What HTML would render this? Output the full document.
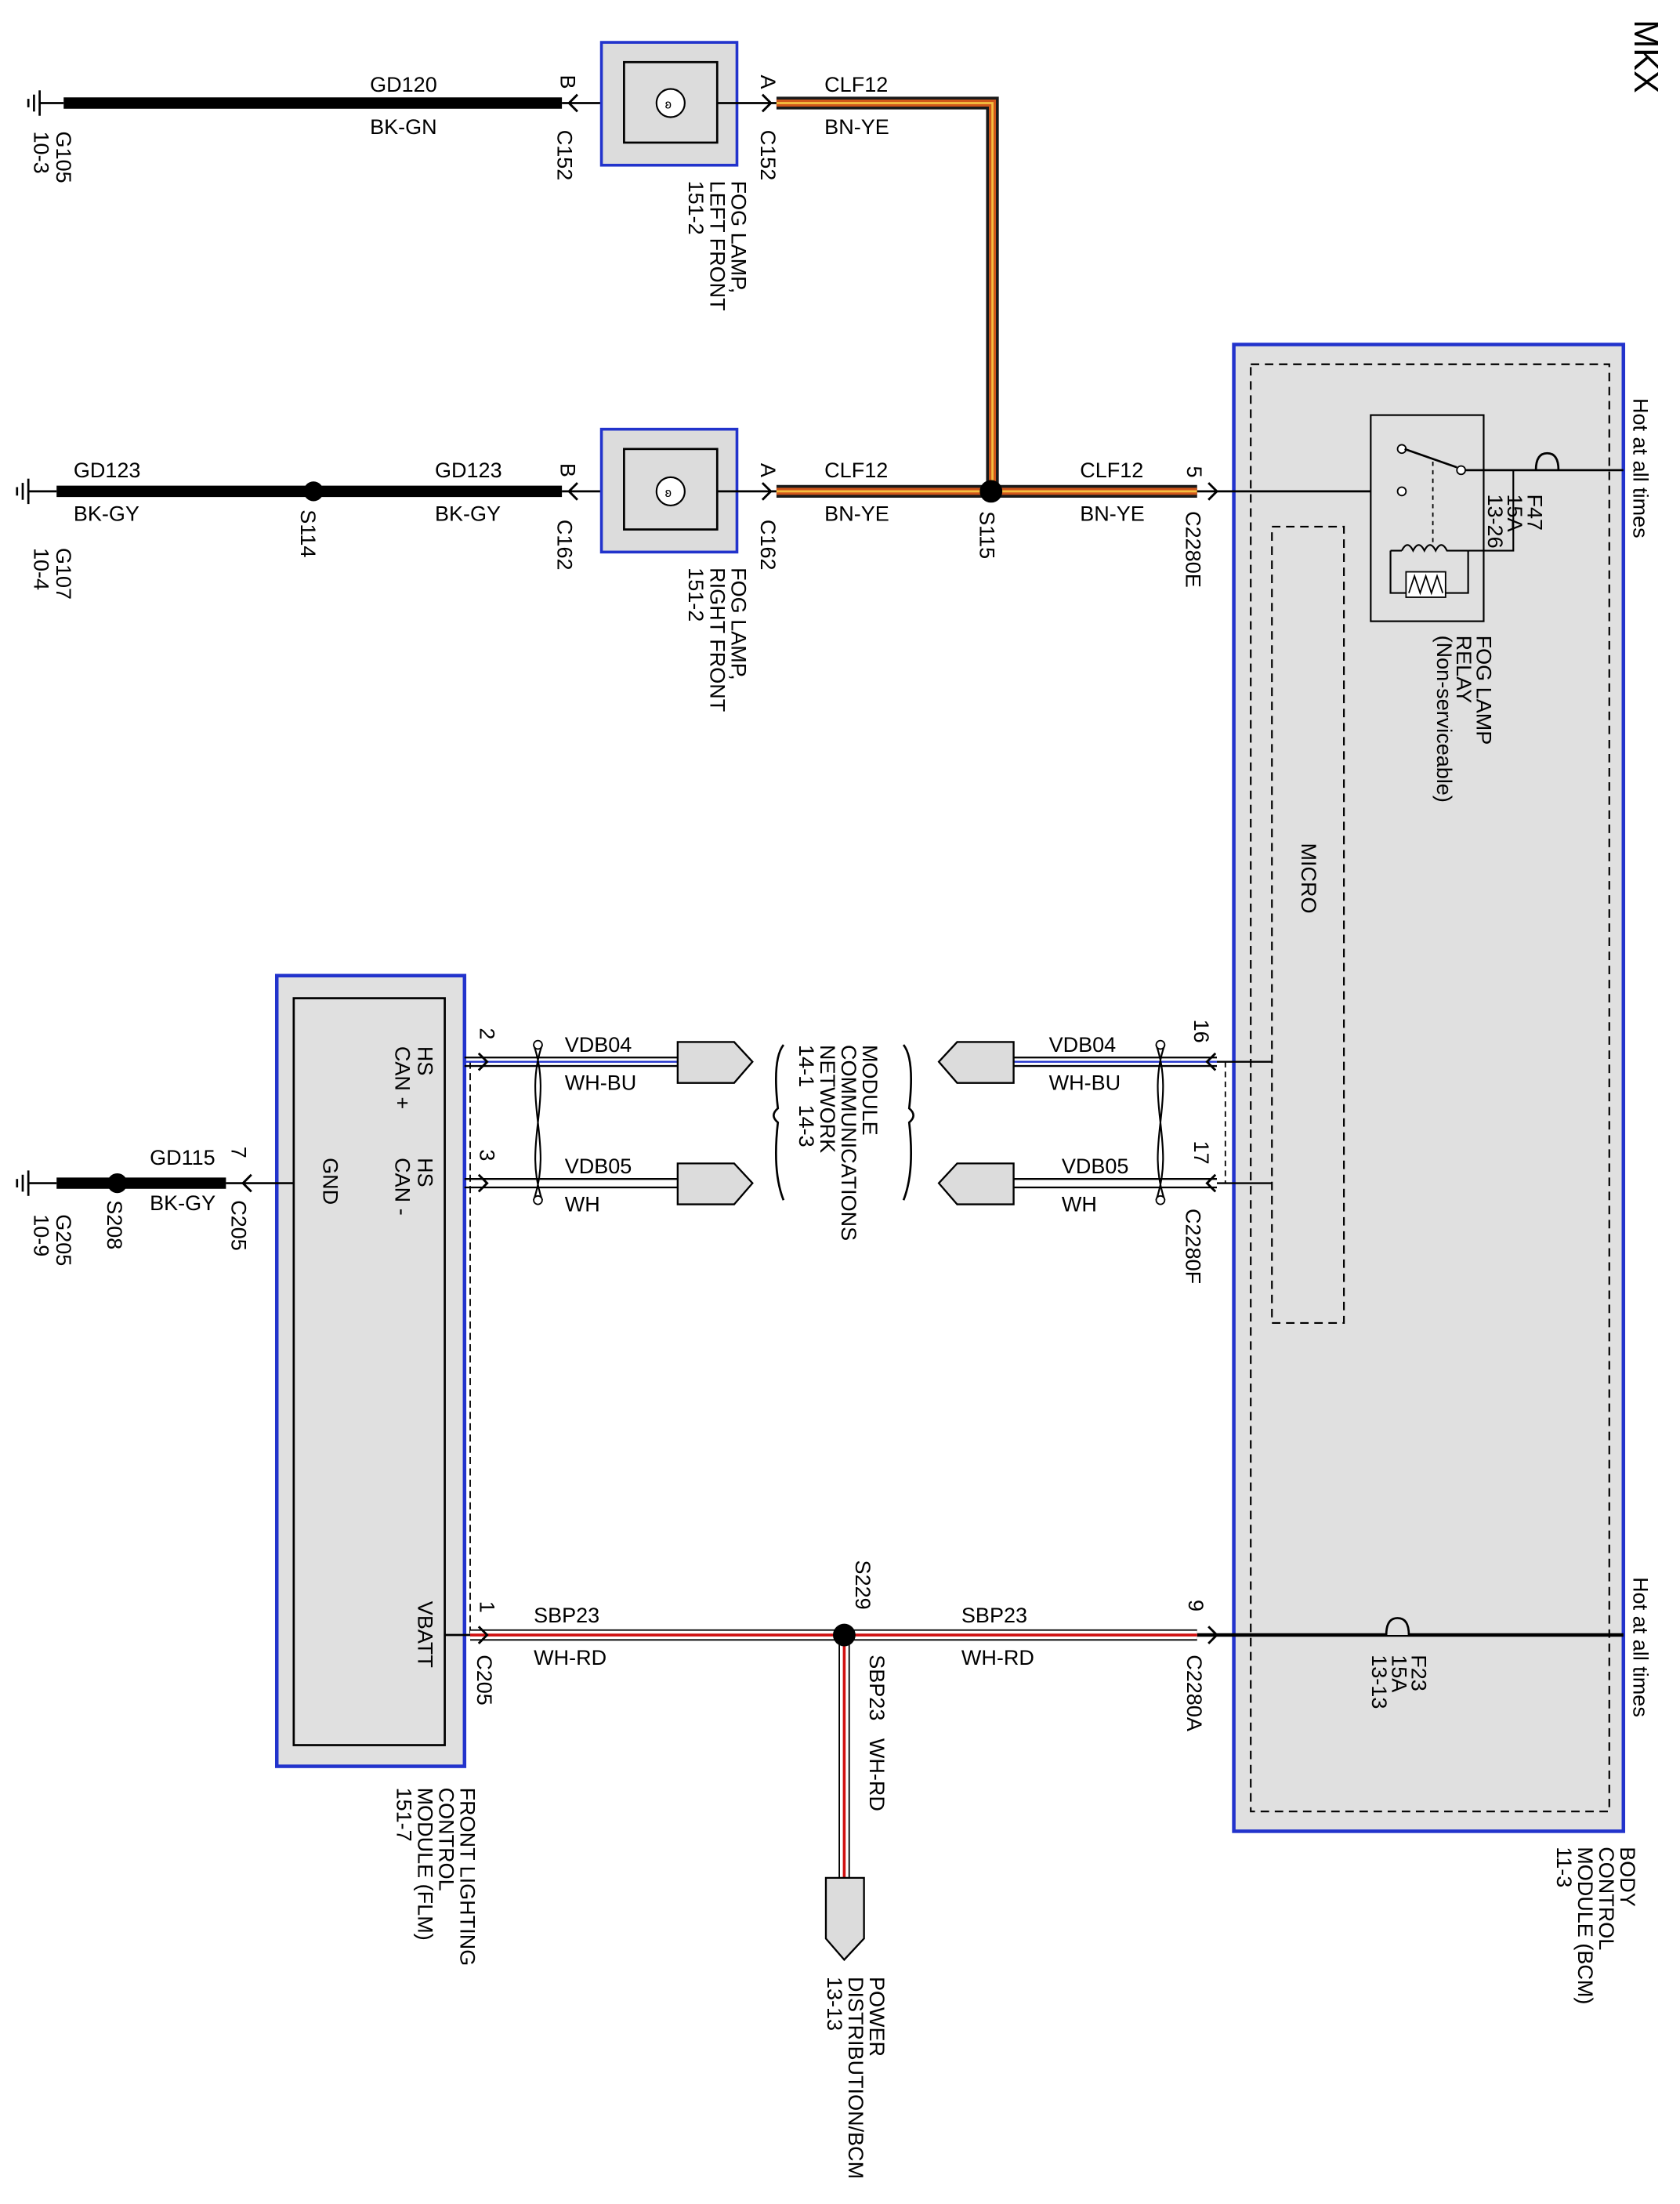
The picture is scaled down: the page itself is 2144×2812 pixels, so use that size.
<!DOCTYPE html>
<html><head><meta charset="utf-8"><style>
html,body{margin:0;padding:0;background:#fff}
svg{display:block}
text{font-family:"Liberation Sans",Arial,sans-serif;font-size:15px;fill:#000}
</style></head><body>
<svg width="2144" height="2812" viewBox="0 0 1190 1561" xmlns="http://www.w3.org/2000/svg">
<rect width="1190" height="1561" fill="#fff"/>
<defs>
<g id="gnd"><line x1="0" y1="-9" x2="0" y2="9" stroke="#000" stroke-width="1.5"/><line x1="-4" y1="-6" x2="-4" y2="6" stroke="#000" stroke-width="1.5"/><line x1="-8" y1="-3" x2="-8" y2="3" stroke="#000" stroke-width="1.5"/></g>
<path id="chevL" d="M6,-6 L0,0 L6,6" fill="none" stroke="#000" stroke-width="1.6"/>
<path id="chevR" d="M-6,-6 L0,0 L-6,6" fill="none" stroke="#000" stroke-width="1.6"/>
</defs>
<text transform="translate(1158,14) rotate(90)" style="font-size:24px">MKX</text>

<!-- Row 1 -->
<use href="#gnd" x="28" y="73"/>
<line x1="28" y1="73" x2="45" y2="73" stroke="#000" stroke-width="1.5"/>
<line x1="45" y1="73" x2="398" y2="73" stroke="#000" stroke-width="8"/>
<line x1="398" y1="73" x2="426" y2="73" stroke="#000" stroke-width="1.5"/>
<use href="#chevL" x="403" y="73"/>
<text x="262" y="65">GD120</text><text x="262" y="95">BK-GN</text>
<text transform="translate(397,53) rotate(90)">B</text>
<text transform="translate(395,92) rotate(90)">C152</text>
<text transform="translate(40,93) rotate(90)">G105</text>
<text transform="translate(24,93) rotate(90)">10-3</text>
<rect x="426" y="30" width="96" height="87" fill="#dcdcdc" stroke="#2233cc" stroke-width="2"/>
<rect x="442" y="44" width="66" height="57" fill="#dcdcdc" stroke="#000" stroke-width="1.5"/>
<circle cx="475" cy="73" r="10" fill="#fff" stroke="#000" stroke-width="1.2"/>
<text x="471" y="77" style="font-size:9px">ʚ</text>
<line x1="508" y1="73" x2="550" y2="73" stroke="#000" stroke-width="1.5"/>
<use href="#chevR" x="546" y="73"/>
<text transform="translate(539,53) rotate(90)">A</text>
<text transform="translate(539,92) rotate(90)">C152</text>
<text transform="translate(518,128) rotate(90)">FOG LAMP,</text>
<text transform="translate(503,128) rotate(90)">LEFT FRONT</text>
<text transform="translate(488,128) rotate(90)">151-2</text>
<path d="M550,73 H703 V348" fill="none" stroke="#1a1a1a" stroke-width="9"/>
<path d="M550,73 H703 V348" fill="none" stroke="#d0561a" stroke-width="5"/>
<path d="M550,73 H703 V348" fill="none" stroke="#f5c040" stroke-width="1.5"/>
<text x="584" y="65">CLF12</text><text x="584" y="95">BN-YE</text>

<!-- Row 2 -->
<use href="#gnd" x="20" y="348"/>
<line x1="20" y1="348" x2="40" y2="348" stroke="#000" stroke-width="1.5"/>
<line x1="40" y1="348" x2="398" y2="348" stroke="#000" stroke-width="8"/>
<circle cx="222" cy="348" r="7" fill="#000"/>
<line x1="398" y1="348" x2="426" y2="348" stroke="#000" stroke-width="1.5"/>
<use href="#chevL" x="403" y="348"/>
<text x="52" y="338">GD123</text><text x="52" y="369">BK-GY</text>
<text x="308" y="338">GD123</text><text x="308" y="369">BK-GY</text>
<text transform="translate(213,361) rotate(90)">S114</text>
<text transform="translate(40,388) rotate(90)">G107</text>
<text transform="translate(24,388) rotate(90)">10-4</text>
<text transform="translate(397,328) rotate(90)">B</text>
<text transform="translate(395,368) rotate(90)">C162</text>
<rect x="426" y="304" width="96" height="87" fill="#dcdcdc" stroke="#2233cc" stroke-width="2"/>
<rect x="442" y="318" width="66" height="57" fill="#dcdcdc" stroke="#000" stroke-width="1.5"/>
<circle cx="475" cy="348" r="10" fill="#fff" stroke="#000" stroke-width="1.2"/>
<text x="471" y="352" style="font-size:9px">ʚ</text>
<line x1="508" y1="348" x2="550" y2="348" stroke="#000" stroke-width="1.5"/>
<use href="#chevR" x="546" y="348"/>
<text transform="translate(539,328) rotate(90)">A</text>
<text transform="translate(539,368) rotate(90)">C162</text>
<text transform="translate(518,402) rotate(90)">FOG LAMP,</text>
<text transform="translate(503,402) rotate(90)">RIGHT FRONT</text>
<text transform="translate(488,402) rotate(90)">151-2</text>
<path d="M550,348 H848" fill="none" stroke="#1a1a1a" stroke-width="9"/>
<path d="M550,348 H848" fill="none" stroke="#d0561a" stroke-width="5"/>
<path d="M550,348 H848" fill="none" stroke="#f5c040" stroke-width="1.5"/>
<circle cx="702" cy="348" r="8" fill="#000"/>
<text x="584" y="338">CLF12</text><text x="584" y="369">BN-YE</text>
<text x="765" y="338">CLF12</text><text x="765" y="369">BN-YE</text>
<text transform="translate(694,362) rotate(90)">S115</text>
<text transform="translate(841,330) rotate(90)">5</text>
<text transform="translate(840,362) rotate(90)">C2280E</text>

<!-- BCM -->
<rect x="874" y="244" width="276" height="1053" fill="#e0e0e0" stroke="#2233cc" stroke-width="2.5"/>
<rect x="886" y="258" width="254" height="1025" fill="none" stroke="#000" stroke-width="1.2" stroke-dasharray="6,4"/>
<rect x="901" y="373" width="51" height="564" fill="none" stroke="#000" stroke-width="1.2" stroke-dasharray="6,4"/>
<text transform="translate(922,597) rotate(90)">MICRO</text>
<line x1="848" y1="348" x2="990" y2="348" stroke="#000" stroke-width="1.5"/>
<use href="#chevR" x="862" y="348"/>
<rect x="971" y="294" width="80" height="146" fill="#e0e0e0" stroke="#000" stroke-width="1.2"/>
<circle cx="993" cy="348" r="3" fill="#fff" stroke="#000"/>
<circle cx="993" cy="318" r="3" fill="#fff" stroke="#000"/>
<circle cx="1035" cy="333" r="3" fill="#fff" stroke="#000"/>
<line x1="995" y1="318" x2="1032" y2="331" stroke="#000" stroke-width="1.5"/>
<line x1="1015" y1="327" x2="1015" y2="385" stroke="#000" stroke-dasharray="3,3"/>
<line x1="1038" y1="333" x2="1150" y2="333" stroke="#000" stroke-width="1.5"/>
<path d="M1088,333 q0,-12 8,-12 q8,0 8,12" fill="none" stroke="#000" stroke-width="1.5"/>
<path d="M1072,333 V390 H1040 M985,390 H993 M985,390 V420 H1040 V390" fill="none" stroke="#000" stroke-width="1.2"/>
<path d="M993,390 q4,-8 8,0 q4,-8 8,0 q4,-8 8,0 q4,-8 8,0 H1040" fill="none" stroke="#000" stroke-width="1.2"/>
<rect x="996" y="405" width="28" height="18" fill="#fff" stroke="#000"/>
<path d="M998,420 l4,-12 l4,12 l4,-12 l4,12 l4,-12 l4,12" fill="none" stroke="#000"/>
<text transform="translate(1082,350) rotate(90)">F47</text>
<text transform="translate(1068,350) rotate(90)">15A</text>
<text transform="translate(1054,350) rotate(90)">13-26</text>
<text transform="translate(1046,450) rotate(90)">FOG LAMP</text>
<text transform="translate(1032,450) rotate(90)">RELAY</text>
<text transform="translate(1018,450) rotate(90)">(Non-serviceable)</text>
<text transform="translate(1157,282) rotate(90)">Hot at all times</text>
<text transform="translate(1157,1117) rotate(90)">Hot at all times</text>
<text transform="translate(1148,1308) rotate(90)">BODY</text>
<text transform="translate(1133,1308) rotate(90)">CONTROL</text>
<text transform="translate(1118,1308) rotate(90)">MODULE (BCM)</text>
<text transform="translate(1103,1308) rotate(90)">11-3</text>
<!-- F23 -->
<line x1="848" y1="1158" x2="1150" y2="1158" stroke="#000" stroke-width="2.5"/>
<use href="#chevR" x="862" y="1158"/>
<path d="M982,1158 q0,-12 8,-12 q8,0 8,12" fill="#e0e0e0" stroke="#000" stroke-width="1.5"/>
<text transform="translate(1000,1172) rotate(90)">F23</text>
<text transform="translate(986,1172) rotate(90)">15A</text>
<text transform="translate(972,1172) rotate(90)">13-13</text>
<text transform="translate(842,1133) rotate(90)">9</text>
<text transform="translate(841,1172) rotate(90)">C2280A</text>

<!-- FLM -->
<rect x="196" y="691" width="133" height="560" fill="#e0e0e0" stroke="#2233cc" stroke-width="2.5"/>
<rect x="208" y="707" width="107" height="529" fill="#e0e0e0" stroke="#000" stroke-width="1.5"/>
<line x1="333" y1="752" x2="333" y2="1158" stroke="#000" stroke-width="1" stroke-dasharray="5,3"/>
<text transform="translate(296,741) rotate(90)">HS</text>
<text transform="translate(280,741) rotate(90)">CAN +</text>
<text transform="translate(296,820) rotate(90)">HS</text>
<text transform="translate(280,820) rotate(90)">CAN -</text>
<text transform="translate(229,820) rotate(90)">GND</text>
<text transform="translate(296,1134) rotate(90)">VBATT</text>
<text transform="translate(326,1266) rotate(90)">FRONT LIGHTING</text>
<text transform="translate(311,1266) rotate(90)">CONTROL</text>
<text transform="translate(296,1266) rotate(90)">MODULE (FLM)</text>
<text transform="translate(281,1266) rotate(90)">151-7</text>
<!-- G205 -->
<use href="#gnd" x="20" y="838"/>
<line x1="20" y1="838" x2="40" y2="838" stroke="#000" stroke-width="1.5"/>
<line x1="40" y1="838" x2="160" y2="838" stroke="#000" stroke-width="8"/>
<circle cx="83" cy="838" r="7" fill="#000"/>
<line x1="160" y1="838" x2="208" y2="838" stroke="#000" stroke-width="1.5"/>
<use href="#chevL" x="172" y="838"/>
<text x="106" y="825">GD115</text><text x="106" y="857">BK-GY</text>
<text transform="translate(164,812) rotate(90)">7</text>
<text transform="translate(164,850) rotate(90)">C205</text>
<text transform="translate(76,850) rotate(90)">S208</text>
<text transform="translate(40,860) rotate(90)">G205</text>
<text transform="translate(24,860) rotate(90)">10-9</text>

<!-- CAN left -->
<g stroke-width="1.3">
<line x1="329" y1="749" x2="480" y2="749" stroke="#000"/><line x1="329" y1="752" x2="480" y2="752" stroke="#2233cc"/><line x1="329" y1="755" x2="480" y2="755" stroke="#000"/>
<line x1="329" y1="835" x2="480" y2="835" stroke="#000"/><line x1="329" y1="841" x2="480" y2="841" stroke="#000"/>
<line x1="718" y1="749" x2="862" y2="749" stroke="#000"/><line x1="718" y1="752" x2="862" y2="752" stroke="#2233cc"/><line x1="718" y1="755" x2="862" y2="755" stroke="#000"/>
<line x1="718" y1="835" x2="862" y2="835" stroke="#000"/><line x1="718" y1="841" x2="862" y2="841" stroke="#000"/>
</g>
<use href="#chevR" x="345" y="752"/><use href="#chevR" x="345" y="838"/>
<use href="#chevL" x="855" y="752"/><use href="#chevL" x="855" y="838"/>
<line x1="862" y1="752" x2="901" y2="752" stroke="#000" stroke-width="1.3"/>
<line x1="862" y1="838" x2="901" y2="838" stroke="#000" stroke-width="1.3"/>
<line x1="868" y1="752" x2="868" y2="838" stroke="#000" stroke-dasharray="4,3"/>
<path d="M378,740 C392,780 370,810 384,850 M384,740 C370,780 392,810 378,850" fill="none" stroke="#000" stroke-width="1.2"/>
<circle cx="381" cy="740" r="3" fill="#fff" stroke="#000"/><circle cx="381" cy="850" r="3" fill="#fff" stroke="#000"/>
<path d="M819,740 C833,780 811,810 825,850 M825,740 C811,780 833,810 819,850" fill="none" stroke="#000" stroke-width="1.2"/>
<circle cx="822" cy="740" r="3" fill="#fff" stroke="#000"/><circle cx="822" cy="850" r="3" fill="#fff" stroke="#000"/>
<text transform="translate(340,728) rotate(90)">2</text>
<text transform="translate(340,814) rotate(90)">3</text>
<text transform="translate(846,722) rotate(90)">16</text>
<text transform="translate(846,808) rotate(90)">17</text>
<text transform="translate(840,856) rotate(90)">C2280F</text>
<text x="400" y="745">VDB04</text><text x="400" y="772">WH-BU</text>
<text x="400" y="831">VDB05</text><text x="400" y="858">WH</text>
<text x="743" y="745">VDB04</text><text x="743" y="772">WH-BU</text>
<text x="752" y="831">VDB05</text><text x="752" y="858">WH</text>
<path d="M480,738 H520 L533,752 L520,767 H480 Z" fill="#dcdcdc" stroke="#000" stroke-width="1.3"/>
<path d="M480,824 H520 L533,838 L520,853 H480 Z" fill="#dcdcdc" stroke="#000" stroke-width="1.3"/>
<path d="M718,738 H678 L665,752 L678,767 H718 Z" fill="#dcdcdc" stroke="#000" stroke-width="1.3"/>
<path d="M718,824 H678 L665,838 L678,853 H718 Z" fill="#dcdcdc" stroke="#000" stroke-width="1.3"/>
<path d="M555,740 q-8,10 -4,45 q-6,5 0,10 q-4,35 4,55" fill="none" stroke="#000" stroke-width="1.5"/>
<path d="M640,740 q8,10 4,45 q6,5 0,10 q4,35 -4,55" fill="none" stroke="#000" stroke-width="1.5"/>
<text transform="translate(611,740) rotate(90)">MODULE</text>
<text transform="translate(596,740) rotate(90)">COMMUNICATIONS</text>
<text transform="translate(581,740) rotate(90)">NETWORK</text>
<text transform="translate(566,740) rotate(90)">14-1 &#160;&#160;14-3</text>

<!-- SBP23 -->
<g fill="none">
<path d="M333,1158 H848 M598,1158 V1330" stroke="#000" stroke-width="8"/>
<path d="M333,1158 H848 M598,1158 V1330" stroke="#fff" stroke-width="6"/>
<path d="M333,1158 H848 M598,1158 V1330" stroke="#d01010" stroke-width="2"/>
</g>
<line x1="315" y1="1158" x2="333" y2="1158" stroke="#000" stroke-width="1.5"/>
<use href="#chevR" x="345" y="1158"/>
<circle cx="598" cy="1158" r="8" fill="#000"/>
<text x="378" y="1149">SBP23</text><text x="378" y="1179">WH-RD</text>
<text x="681" y="1149">SBP23</text><text x="681" y="1179">WH-RD</text>
<text transform="translate(606,1105) rotate(90)">S229</text>
<text transform="translate(616,1172) rotate(90)">SBP23 &#160;&#160;WH-RD</text>
<text transform="translate(340,1134) rotate(90)">1</text>
<text transform="translate(338,1172) rotate(90)">C205</text>
<path d="M585,1330 H612 V1373 L598,1388 L585,1373 Z" fill="#dcdcdc" stroke="#000" stroke-width="1.3"/>
<text transform="translate(616,1400) rotate(90)">POWER</text>
<text transform="translate(601,1400) rotate(90)">DISTRIBUTION/BCM</text>
<text transform="translate(586,1400) rotate(90)">13-13</text>
</svg>
</body></html>
